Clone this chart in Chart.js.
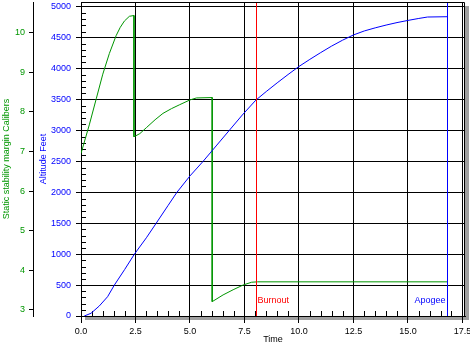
<!DOCTYPE html>
<html>
<head>
<meta charset="utf-8">
<script src="https://cdn.jsdelivr.net/npm/chart.js@4/dist/chart.umd.min.js"></script>
<style>
  body { margin: 0; background: #fff; }
</style>
</head>
<body>
<canvas id="chart" width="470" height="345"></canvas>
<script>
// Altitude (feet) against time (s)
const altTime = [0.15, 0.46, 0.84, 1.22, 1.53, 2.0, 2.45, 3.0, 3.45, 4.0, 4.4, 5.0, 5.6, 6.2, 6.8, 7.4, 8.02, 8.5, 9.0, 9.5, 10.0, 10.5, 11.0, 11.5, 12.0, 12.5, 13.0, 13.5, 14.0, 14.5, 15.0, 15.5, 15.9, 16.8];
const altitude = [0, 44, 162, 312, 500, 750, 1000, 1265, 1500, 1790, 2000, 2265, 2500, 2750, 3000, 3250, 3490, 3630, 3770, 3905, 4035, 4150, 4260, 4365, 4460, 4545, 4610, 4660, 4705, 4745, 4780, 4812, 4835, 4840];

// Static stability margin (calibers) against time (s)
const stabTime = [0, 0.38, 0.7, 1.0, 1.3, 1.61, 1.8, 1.99, 2.22, 2.43, 2.43, 2.7, 3.0, 3.4, 3.76, 4.15, 4.53, 5.0, 5.3, 6.02, 6.02, 6.52, 6.98, 7.44, 7.83, 8.1, 16.8];
const stability = [6.95, 7.67, 8.33, 8.95, 9.47, 9.92, 10.13, 10.29, 10.41, 10.43, 7.37, 7.45, 7.6, 7.8, 7.96, 8.08, 8.18, 8.3, 8.35, 8.36, 3.21, 3.38, 3.51, 3.63, 3.7, 3.71, 3.71];

// Events
const eventNames = ['Burnout', 'Apogee'];
const eventTimes = [8.02, 16.8];

// Tick labels
const timeTicks = [0, 2.5, 5, 7.5, 10, 12.5, 15, 17.5];
const altTicks = [0, 500, 1000, 1500, 2000, 2500, 3000, 3500, 4000, 4500, 5000];
const stabTicks = [3, 4, 5, 6, 7, 8, 9, 10];

const GREEN = '#009600';
const BLUE = '#0000ff';
const RED = '#ff0000';
const eventColors = [RED, BLUE];

Chart.defaults.font.family = '"Liberation Sans", Arial, sans-serif';
Chart.defaults.font.size = 9;

const extras = {
    id: 'extras',
    beforeDraw(chart) {
        const { ctx, chartArea: a } = chart;
        ctx.save();
        // shadow + white plot
        ctx.fillStyle = '#a0a0a0';
        ctx.fillRect(a.left + 4, a.top + 4, a.right - a.left, a.bottom - a.top);
        ctx.fillStyle = '#fff';
        ctx.fillRect(a.left, a.top, a.right - a.left, a.bottom - a.top);
        ctx.restore();
    },
    beforeDatasetsDraw(chart) {
        const { ctx, chartArea: a, scales } = chart;
        ctx.save();
        ctx.lineWidth = 1;
        ctx.strokeStyle = '#000';

        // top and right frame
        ctx.beginPath();
        ctx.moveTo(a.left, a.top + 0.5);
        ctx.lineTo(a.right - 0.5, a.top + 0.5);
        ctx.lineTo(a.right - 0.5, a.bottom);
        ctx.stroke();

        // minor ticks
        ctx.beginPath();
        for (let v = 100; v <= 5000; v += 100) {
            if (v % 500 === 0) continue;
            const y = Math.round(scales.alt.getPixelForValue(v)) + 0.5;
            ctx.moveTo(a.left, y);
            ctx.lineTo(a.left + 5, y);
        }
        for (let i = 1; i <= 35; i++) {
            if (i % 5 === 0) continue;
            const x = Math.round(scales.x.getPixelForValue(i * 0.5)) + 0.5;
            ctx.moveTo(x, a.bottom);
            ctx.lineTo(x, a.bottom - 5);
        }
        ctx.stroke();
        ctx.restore();
    },
    afterDatasetsDraw(chart) {
        const { ctx, chartArea: a, scales } = chart;
        // burnout / apogee markers
        for (let i = 0; i < eventTimes.length; i++) {
            const x = Math.round(scales.x.getPixelForValue(eventTimes[i])) + 0.5;
            ctx.save();
            ctx.lineWidth = 1;
            ctx.strokeStyle = eventColors[i];
            ctx.beginPath();
            ctx.moveTo(x, a.top + 1);
            ctx.lineTo(x, a.bottom);
            ctx.stroke();
            ctx.fillStyle = eventColors[i];
            ctx.font = '9px "Liberation Sans", Arial, sans-serif';
            ctx.textBaseline = 'middle';
            ctx.textAlign = i === 0 ? 'left' : 'right';
            ctx.fillText(eventNames[i], i === 0 ? x + 1 : x - 2, a.bottom - 15);
            ctx.restore();
        }
    }
};

const setTicks = (list) => (scale) => {
    scale.ticks = list.map(v => ({ value: v }));
};

const fixSize = (w, h) => (s) => {
    if (w) s.width = w;
    if (h) s.height = h;
    s.paddingTop = 0;
    s.paddingBottom = 0;
    s.paddingLeft = 0;
    s.paddingRight = 0;
};

new Chart(document.getElementById('chart'), {
    type: 'line',
    data: {
        datasets: [
            {
                label: 'Altitude Feet',
                data: altTime.map((t, i) => ({ x: t, y: altitude[i] })),
                borderColor: BLUE,
                borderWidth: 1,
                pointRadius: 0,
                tension: 0,
                yAxisID: 'alt'
            },
            {
                label: 'Static stability margin Calibers',
                data: stabTime.map((t, i) => ({ x: t, y: stability[i] })),
                borderColor: GREEN,
                borderWidth: 1,
                pointRadius: 0,
                tension: 0,
                yAxisID: 'stab'
            }
        ]
    },
    options: {
        responsive: false,
        animation: false,
        events: [],
        layout: { autoPadding: false, padding: { top: 2, right: 5, left: 0, bottom: 0 } },
        plugins: { legend: { display: false }, tooltip: { enabled: false } },
        scales: {
            x: {
                type: 'linear',
                min: 0,
                max: 17.62,
                afterBuildTicks: setTicks(timeTicks),
                afterFit: fixSize(0, 29),
                ticks: { color: '#000', padding: 3, maxRotation: 0, autoSkip: false, callback: v => v.toFixed(1) },
                grid: { color: '#000', tickLength: 7 },
                border: { color: '#000' },
                title: { display: true, text: 'Time', color: '#000', padding: { top: 0, bottom: 0 } }
            },
            alt: {
                type: 'linear',
                position: 'left',
                weight: 1,
                min: 0,
                max: 5078,
                afterBuildTicks: setTicks(altTicks),
                afterFit: fixSize(48, 0),
                ticks: { color: BLUE, padding: 5, autoSkip: false, callback: v => String(v) },
                grid: { color: '#000', tickLength: 5 },
                border: { color: '#000' },
                title: { display: true, text: 'Altitude Feet', color: BLUE, padding: { top: 5, bottom: 0 } }
            },
            stab: {
                type: 'linear',
                position: 'left',
                weight: 2,
                min: 2.848,
                max: 10.771,
                afterBuildTicks: setTicks(stabTicks),
                afterFit: fixSize(33, 0),
                ticks: { color: GREEN, padding: 4, autoSkip: false, callback: v => String(v) },
                grid: { color: '#000', tickLength: 4, drawOnChartArea: false },
                border: { color: '#000' },
                title: { display: true, text: 'Static stability margin Calibers', color: GREEN, padding: { top: 1, bottom: 0 } }
            }
        }
    },
    plugins: [extras]
});
</script>
</body>
</html>
